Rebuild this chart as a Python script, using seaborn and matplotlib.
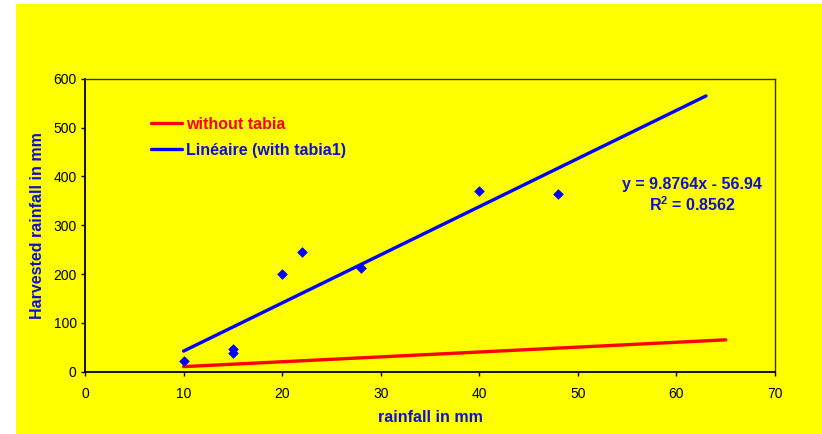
import numpy as np
import pandas as pd
import seaborn as sns
import matplotlib.pyplot as plt
from matplotlib.lines import Line2D
from matplotlib.patches import Rectangle

# data
rainfall = [10, 15, 15, 20, 22, 28, 40, 48]
harvested = [22, 46, 37, 200, 246, 213, 370, 365]

slope = 9.8764
intercept = -56.94
r2 = 0.8562
trend_x = [10, 63]

without_x = [10, 65]
without_y = [10, 65]

x_ticks = [0, 10, 20, 30, 40, 50, 60, 70]
y_ticks = [0, 100, 200, 300, 400, 500, 600]

sns.set_style("white")
plt.rcParams['font.family'] = ['Liberation Sans', 'DejaVu Sans']
plt.rcParams['mathtext.fontset'] = 'custom'
plt.rcParams['mathtext.bf'] = 'Liberation Sans:bold'

yellow = '#FFFF00'
blue = '#0000FF'
txt_blue = '#1010D0'
red = '#FF0000'

fig = plt.figure(figsize=(8.22, 4.34), dpi=100)
fig.patch.set_facecolor('white')
# yellow chart area behind the axes
fig.patches.append(Rectangle((16 / 822, 0), 806 / 822, 430 / 434,
                             transform=fig.transFigure, facecolor=yellow,
                             edgecolor='none', zorder=-10))

ax = fig.add_axes([85 / 822, 62.5 / 434, 690 / 822, 292.5 / 434])
ax.set_facecolor(yellow)

df_pts = pd.DataFrame({'rain': rainfall, 'harv': harvested})
df_red = pd.DataFrame({'x': without_x, 'y': without_y})
tx = np.array(trend_x, dtype=float)
df_blue = pd.DataFrame({'x': tx, 'y': slope * tx + intercept})

sns.lineplot(data=df_red, x='x', y='y', color=red, linewidth=2.4, ax=ax)
sns.lineplot(data=df_blue, x='x', y='y', color=blue, linewidth=2.4, ax=ax)
sns.scatterplot(data=df_pts, x='rain', y='harv', marker='D', s=24,
                color=blue, edgecolor=blue, linewidth=0.5, ax=ax, zorder=5)

ax.set_xlim(0, 70)
ax.set_ylim(0, 600)
ax.set_xticks(x_ticks)
ax.set_yticks(y_ticks)
ax.tick_params(axis='both', direction='out', length=3, width=1, labelsize=10,
               colors='black')
ax.tick_params(axis='x', bottom=True, pad=8)
ax.tick_params(axis='y', left=True, pad=3)

for side in ['left', 'bottom']:
    ax.spines[side].set_color('black')
    ax.spines[side].set_linewidth(1.3)
for side in ['top', 'right']:
    ax.spines[side].set_visible(True)
    ax.spines[side].set_color('#333333')
    ax.spines[side].set_linewidth(1.0)

ax.set_xlabel('rainfall in mm', fontsize=11.5, fontweight='bold', color=txt_blue,
              labelpad=7)
ax.set_ylabel('Harvested rainfall in mm', fontsize=11.5, fontweight='bold',
              color=txt_blue, labelpad=6)

handles = [Line2D([0], [0], color=red, lw=2.4),
           Line2D([0], [0], color=blue, lw=2.4)]
leg = ax.legend(handles, ['without tabia', 'Linéaire (with tabia1)'],
                loc='upper left', bbox_to_anchor=(0.075, 0.919), frameon=False,
                handlelength=1.95, handletextpad=0.25, labelspacing=0.67,
                prop={'size': 11.5, 'weight': 'bold'})
leg.get_texts()[0].set_color(red)
leg.get_texts()[1].set_color(txt_blue)

ax.text(0.88, 0.638, f'y = {slope}x - {abs(intercept)}', transform=ax.transAxes,
        ha='center', va='center', fontsize=11.5, fontweight='bold', color=txt_blue)
ax.text(0.88, 0.572, r'R$^{\mathbf{2}}$ = ' + f'{r2}', transform=ax.transAxes,
        ha='center', va='center', fontsize=11.5, fontweight='bold', color=txt_blue)

fig.savefig('out.png', dpi=100, facecolor=fig.get_facecolor())
